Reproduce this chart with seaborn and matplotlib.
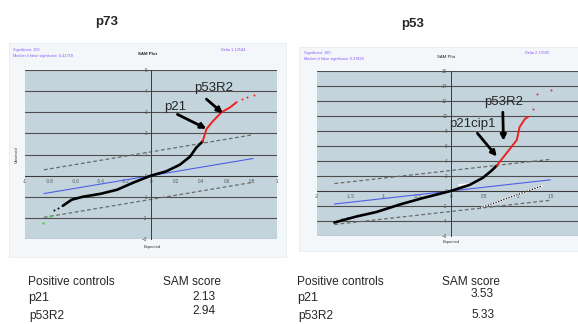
import matplotlib
matplotlib.use("Agg")
import matplotlib.pyplot as plt
import numpy as np
import seaborn as sns

sns.set_style("white")
plt.rcParams["font.family"] = ["Liberation Sans", "DejaVu Sans"]

# ---- p73 SAM plot data (expected vs observed relative difference) ----
p73_exp = [-0.70, -0.63, -0.54, -0.40, -0.27, -0.14, 0.0, 0.12, 0.23, 0.31, 0.36, 0.41]
p73_obs = [-1.43, -1.14, -1.00, -0.86, -0.67, -0.33, 0.0, 0.20, 0.52, 0.90, 1.33, 1.62]
p73_sig_exp = [0.41, 0.44, 0.49, 0.56, 0.63, 0.68]
p73_sig_obs = [1.62, 2.20, 2.57, 3.00, 3.24, 3.48]
p73_sig_dots_exp = [0.72, 0.76, 0.82]
p73_sig_dots_obs = [3.62, 3.70, 3.80]
p73_tail_exp = [-0.77, -0.74]
p73_tail_obs = [-1.62, -1.55]
p73_down_exp = [-0.80, -0.86]
p73_down_obs = [-1.90, -2.24]
p73_range = [-0.85, 0.81]
p73_delta = 1.12544
p73_info = ["Significant: 150", "Median # false significant: 0.41759", "Delta 1.12544"]

# ---- p53 SAM plot data ----
p53_exp = [-1.74, -1.41, -1.11, -0.76, -0.42, 0.0, 0.28, 0.48, 0.61, 0.69]
p53_obs = [-4.2, -3.4, -2.8, -1.8, -0.95, 0.0, 0.8, 1.75, 2.7, 3.4]
p53_sig_exp = [0.69, 0.84, 0.99, 1.03, 1.11, 1.16]
p53_sig_obs = [3.4, 5.1, 6.8, 8.5, 9.6, 9.9]
p53_sig_dots_exp = [1.23, 1.29, 1.50]
p53_sig_dots_obs = [10.9, 13.0, 13.5]
p53_tail_exp = [-1.62, -1.55]
p53_tail_obs = [-3.7, -3.55]
p53_range = [-1.74, 1.49]
p53_delta = 2.73
p53_aux_exp = [0.40, 1.37]
p53_aux_obs = [-2.4, 0.7]
p53_white_exp = [0.13, 0.32]
p53_white_obs = [0.8, 0.95]
p53_info = ["Significant: 180", "Median # false significant: 0.37828", "Delta 2.73580"]

# ---- positive controls table ----
controls = ["p21", "p53R2"]
p73_scores = ["2.13", "2.94"]
p53_scores = ["3.53", "5.33"]

W, H = 578, 324
fig = plt.figure(figsize=(W / 100, H / 100), dpi=100)
fig.patch.set_facecolor("white")


def fx(px):
    return px / W


def fy(py):
    return 1 - py / H


def rect(x0, y0, x1, y1):
    return [fx(x0), fy(y1), fx(x1) - fx(x0), fy(y0) - fy(y1)]


PANEL = "#f3f7fa"
PLOT_BG = "#c4d4dd"
GRID = "#4e4e4e"
INFO = "#8a55ff"
DASH = "#6a6a6a"
BLUE = "#4f5fe6"

# outer light panels (background axes behind the plots)
for x0, y0, x1, y1 in [(9, 43, 286, 257), (299, 47, 580, 251)]:
    bg = fig.add_axes(rect(x0, y0, x1, y1), zorder=-5)
    bg.set_facecolor(PANEL)
    bg.set_xticks([])
    bg.set_yticks([])
    for s in bg.spines.values():
        s.set_color("#e6ecef")
        s.set_linewidth(0.6)


def style_axes(ax, xticks, yticks, xlabels):
    ax.set_facecolor(PLOT_BG)
    for s in ["top", "right"]:
        ax.spines[s].set_visible(False)
    ax.spines["left"].set_position(("data", 0))
    ax.spines["bottom"].set_position(("data", 0))
    for s in ["left", "bottom"]:
        ax.spines[s].set_color("#3a3a3a")
        ax.spines[s].set_linewidth(0.7)
    ax.set_xticks(xticks)
    ax.set_xticklabels(xlabels)
    ax.set_yticks(yticks)
    ax.tick_params(axis="both", labelsize=3.3, colors="#555555", length=1.5,
                   width=0.5, pad=1)
    ax.grid(axis="y", color=GRID, lw=0.8)
    ax.grid(axis="x", visible=False)
    ax.set_axisbelow(True)
    ax.set_xlabel("")
    ax.set_ylabel("")


def draw_sam(ax, rng, delta, exp, obs, sig_exp, sig_obs, dots_exp, dots_obs,
             tail_exp, tail_obs):
    rng = np.array(rng)
    sns.lineplot(x=rng, y=rng, ax=ax, color=BLUE, lw=0.8, zorder=2)
    for sgn in (1, -1):
        sns.lineplot(x=rng, y=rng + sgn * delta, ax=ax, color=DASH, lw=0.9,
                     zorder=2, linestyle=(0, (3, 2)))
    sns.lineplot(x=exp, y=obs, ax=ax, color="black", lw=1.9, sort=False,
                 estimator=None, zorder=3)
    sns.scatterplot(x=tail_exp, y=tail_obs, ax=ax, color="black", s=2,
                    linewidth=0, zorder=3)
    sns.lineplot(x=sig_exp, y=sig_obs, ax=ax, color="#ee2020", lw=1.4,
                 sort=False, estimator=None, zorder=4)
    sns.scatterplot(x=dots_exp, y=dots_obs, ax=ax, color="#ee2020", s=2,
                    linewidth=0, zorder=4)


def arrow(ax, tail, head):
    ax.annotate("", xy=head, xytext=tail,
                arrowprops=dict(arrowstyle="-|>", color="black", lw=2.0,
                                mutation_scale=8, shrinkA=0, shrinkB=0),
                zorder=6)


# ---------------- p73 ----------------
ax1 = fig.add_axes(rect(25, 70, 277, 239))
draw_sam(ax1, p73_range, p73_delta, p73_exp, p73_obs, p73_sig_exp, p73_sig_obs,
         p73_sig_dots_exp, p73_sig_dots_obs, p73_tail_exp, p73_tail_obs)
sns.scatterplot(x=p73_down_exp, y=p73_down_obs, ax=ax1, color="#3fcf3f", s=3,
                linewidth=0, zorder=4)
ax1.set_xlim(-1, 1)
ax1.set_ylim(-3, 5)
xt1 = [-1, -0.8, -0.6, -0.4, -0.2, 0, 0.2, 0.4, 0.6, 0.8, 1]
style_axes(ax1, xt1, list(range(-3, 6)), [f"{v:g}" for v in xt1])
ax1.text(0.19, 3.26, "p21", fontsize=9.5, ha="center", va="center", zorder=7)
ax1.text(0.50, 4.14, "p53R2", fontsize=9.5, ha="center", va="center", zorder=7)
arrow(ax1, (0.21, 2.90), (0.44, 2.22))
arrow(ax1, (0.44, 3.62), (0.57, 2.95))

fig.text(fx(13), fy(50), p73_info[0], fontsize=2.8, color=INFO, va="center")
fig.text(fx(13), fy(56), p73_info[1], fontsize=2.8, color=INFO, va="center")
fig.text(fx(221), fy(50), p73_info[2], fontsize=2.8, color=INFO, va="center")
fig.text(fx(147), fy(54), "SAM Plot", fontsize=3.2, color="#222222",
         ha="center", va="center", weight="bold")
fig.text(fx(17), fy(155), "Observed", fontsize=2.8, color="#333333",
         rotation=90, ha="center", va="center")
fig.text(fx(152), fy(247), "Expected", fontsize=3, color="#333333",
         ha="center", va="center")
fig.text(fx(107), fy(22), "p73", fontsize=9.5, weight="bold", ha="center",
         va="center")

# ---------------- p53 ----------------
ax2 = fig.add_axes(rect(317, 71, 578, 236))
sns.lineplot(x=p53_aux_exp, y=p53_aux_obs, ax=ax2, color="white", lw=1.3, zorder=2)
sns.lineplot(x=p53_aux_exp, y=p53_aux_obs, ax=ax2, color="black", lw=0.9,
             linestyle=(0, (1, 1.2)), zorder=2)
sns.lineplot(x=p53_white_exp, y=p53_white_obs, ax=ax2, color="white", lw=1.3,
             zorder=2)
draw_sam(ax2, p53_range, p53_delta, p53_exp, p53_obs, p53_sig_exp, p53_sig_obs,
         p53_sig_dots_exp, p53_sig_dots_obs, p53_tail_exp, p53_tail_obs)
ax2.set_xlim(-2, 1.905)
ax2.set_ylim(-6, 16)
xt2 = [-2, -1.5, -1, -0.5, 0, 0.5, 1, 1.5]
style_axes(ax2, xt2, list(range(-6, 17, 2)), [f"{v:g}" for v in xt2])
ax2.text(0.79, 11.8, "p53R2", fontsize=9.5, ha="center", va="center", zorder=7)
ax2.text(0.32, 8.95, "p21cip1", fontsize=9.5, ha="center", va="center", zorder=7)
arrow(ax2, (0.78, 10.5), (0.79, 6.7))
arrow(ax2, (0.40, 7.7), (0.69, 4.6))

fig.text(fx(304), fy(53), p53_info[0], fontsize=2.8, color=INFO, va="center")
fig.text(fx(304), fy(59), p53_info[1], fontsize=2.8, color=INFO, va="center")
fig.text(fx(525), fy(53), p53_info[2], fontsize=2.8, color=INFO, va="center")
fig.text(fx(446), fy(57), "SAM Plot", fontsize=3.2, color="#222222",
         ha="center", va="center")
fig.text(fx(451), fy(242), "Expected", fontsize=3, color="#333333",
         ha="center", va="center")
fig.text(fx(413), fy(24), "p53", fontsize=9.5, weight="bold", ha="center",
         va="center")


# ---------------- positive controls tables ----------------
def table(x_name, x_score, scores, row_y, score_y):
    fig.text(fx(x_name), fy(282), "Positive controls", fontsize=8.6, va="center")
    fig.text(fx(x_score), fy(282), "SAM score", fontsize=8.6, va="center")
    for name, sc, ry, sy in zip(controls, scores, row_y, score_y):
        fig.text(fx(x_name + (0 if name == "p21" else 1)), fy(ry), name,
                 fontsize=9 if name == "p21" else 8.6, va="center")
        fig.text(fx(x_score + 29), fy(sy), sc, fontsize=8.6, va="center")


table(28, 163, p73_scores, [298, 316], [297, 311])
table(297, 442, p53_scores, [298, 316], [294, 315])

fig.savefig("out.png", dpi=100, facecolor="white")
